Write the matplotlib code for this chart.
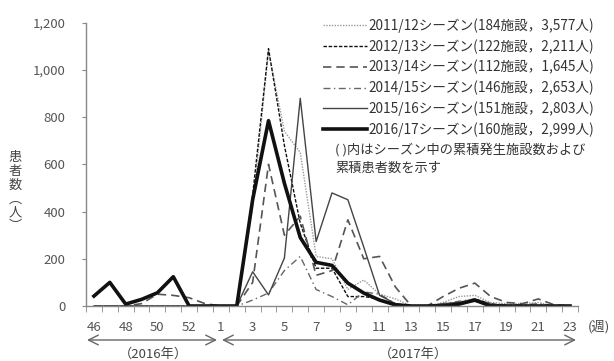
import matplotlib
matplotlib.use("Agg")
import matplotlib.pyplot as plt
import numpy as np

plt.rcParams['font.family'] = ['Noto Sans CJK JP', 'DejaVu Sans']

# weeks 46..53 (2016) then 1..23 (2017)
weeks = [46, 47, 48, 49, 50, 51, 52, 53] + list(range(1, 24))
tick_weeks = [46, 48, 50, 52, 1, 3, 5, 7, 9, 11, 13, 15, 17, 19, 21, 23]

s1112 = [0, 0, 0, 0, 0, 0, 0, 0, 0, 0, 420, 1080, 740, 650, 210, 200, 70, 110, 50, 30,
         0, 0, 15, 40, 45, 15, 10, 10, 15, 0, 0]
s1213 = [0, 0, 0, 0, 0, 0, 0, 0, 0, 0, 470, 1090, 680, 350, 160, 160, 40, 40, 30, 0,
         0, 0, 5, 15, 30, 10, 0, 0, 0, 0, 0]
s1314 = [0, 0, 0, 10, 50, 45, 35, 10, 0, 0, 100, 600, 300, 380, 130, 150, 365, 200, 210, 80,
         0, 0, 40, 75, 97, 40, 15, 10, 30, 5, 0]
s1415 = [0, 0, 0, 0, 0, 0, 0, 0, 0, 0, 25, 55, 150, 210, 70, 40, 5, 60, 50, 10,
         0, 0, 10, 20, 30, 10, 5, 5, 10, 0, 0]
s1516 = [0, 0, 0, 0, 0, 0, 0, 0, 0, 0, 145, 47, 203, 880, 273, 479, 450, 250, 45, 10,
         0, 0, 10, 15, 20, 5, 0, 0, 0, 0, 0]
s1617 = [42, 100, 8, 28, 56, 124, 0, 0, 0, 0, 450, 785, 520, 290, 185, 172, 97, 55, 25, 5,
         0, 0, 0, 8, 25, 0, 0, 0, 0, 0, 0]

labels = ['2011/12シーズン(184施設，3,577人)',
          '2012/13シーズン(122施設，2,211人)',
          '2013/14シーズン(112施設，1,645人)',
          '2014/15シーズン(146施設，2,653人)',
          '2015/16シーズン(151施設，2,803人)',
          '2016/17シーズン(160施設，2,999人)']

x = np.arange(len(weeks))

fig = plt.figure(figsize=(6.14, 3.61), dpi=100)
ax = fig.add_axes([86/614, 1-306/361, (578-86)/614, (306-22.7)/361])

ax.plot(x, s1112, color='#9a9a9a', lw=1.0, linestyle=(0, (1, 1)), label=labels[0])
ax.plot(x, s1213, color='#111111', lw=1.0, linestyle=(0, (2.5, 1.2)), label=labels[1])
ax.plot(x, s1314, color='#555555', lw=1.2, linestyle=(0, (5, 3)), label=labels[2])
ax.plot(x, s1415, color='#666666', lw=1.0, linestyle=(0, (5, 2.5, 1, 2.5)), label=labels[3])
ax.plot(x, s1516, color='#444444', lw=1.0, label=labels[4])
ax.plot(x, s1617, color='#111111', lw=2.6, label=labels[5])

ax.set_xlim(-0.5, len(weeks) - 0.5)
ax.set_ylim(0, 1200)
ax.set_yticks(range(0, 1201, 200))
ax.set_yticklabels(['0', '200', '400', '600', '800', '1,000', '1,200'])
ax.set_xticks([weeks.index(w) if w > 40 else weeks.index(w, 8) for w in tick_weeks])
ax.set_xticklabels([str(w) for w in tick_weeks])
ax.set_xticks(np.arange(-0.5, len(weeks), 1), minor=True)
ax.tick_params(axis='x', which='major', length=0, pad=11, labelsize=9.5, colors='#555555')
ax.tick_params(axis='x', which='minor', length=4, color='#888888', direction='out')
ax.tick_params(axis='y', length=3, color='#888888', labelsize=9.5, colors='#555555', pad=12)

for sp in ['top', 'right']:
    ax.spines[sp].set_visible(False)
for sp in ['left', 'bottom']:
    ax.spines[sp].set_color('#888888')
    ax.spines[sp].set_linewidth(1.0)

leg = ax.legend(loc='upper left', bbox_to_anchor=(323/614, 1-18/361),
                bbox_transform=fig.transFigure, frameon=False, fontsize=9.8,
                handlelength=3.2, handletextpad=0.15, labelspacing=0.45,
                borderpad=0, borderaxespad=0)
for t in leg.get_texts():
    t.set_color('#333333')

fig.text(335/614, 1-150/361, '( )内はシーズン中の累積発生施設数および', fontsize=9.5,
         color='#333333', va='center')
fig.text(335/614, 1-168/361, '累積患者数を示す', fontsize=9.5, color='#333333', va='center')

fig.text(15/614, 1-192/361, '患\n者\n数\n︵\n人\n︶', fontsize=9.5, color='#444444',
         va='center', ha='center', linespacing=1.1)

fig.text(599/614, 1-327/361, '(週)', fontsize=9.5, color='#444444', va='center', ha='center')

arrow = dict(arrowstyle='<->,head_length=0.7,head_width=0.35', color='#666666', lw=1.0,
             shrinkA=0, shrinkB=0)
ax.annotate('', xy=(87/614, 1-340/361), xytext=(217/614, 1-340/361),
            xycoords='figure fraction', textcoords='figure fraction', arrowprops=arrow)
ax.annotate('', xy=(222/614, 1-340/361), xytext=(576/614, 1-340/361),
            xycoords='figure fraction', textcoords='figure fraction', arrowprops=arrow)
fig.text(153/614, 1-354/361, '（2016年）', fontsize=9.5, color='#444444', va='center', ha='center')
fig.text(413/614, 1-354/361, '（2017年）', fontsize=9.5, color='#444444', va='center', ha='center')

fig.savefig('out.png', dpi=100)
